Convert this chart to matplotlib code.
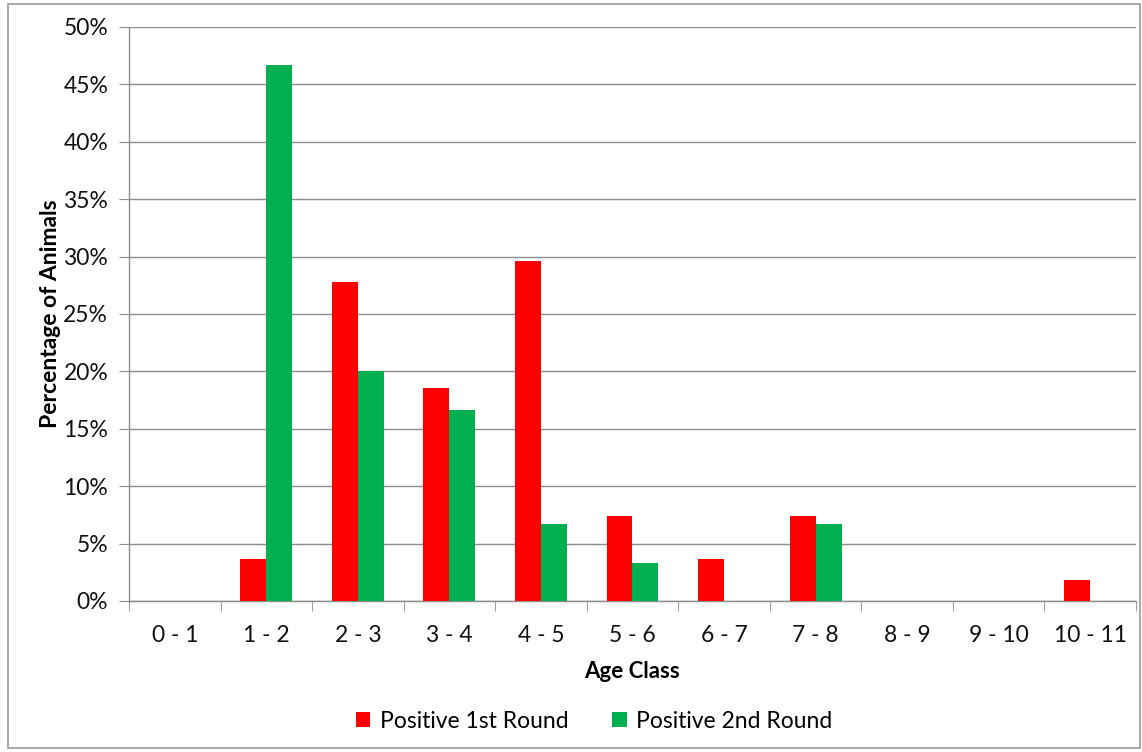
import numpy as np
import matplotlib.pyplot as plt
from matplotlib.patches import Rectangle
from matplotlib.ticker import PercentFormatter, FixedLocator

plt.rcParams['font.family'] = ['Lato', 'DejaVu Sans']

age_classes = ["0 - 1", "1 - 2", "2 - 3", "3 - 4", "4 - 5", "5 - 6",
               "6 - 7", "7 - 8", "8 - 9", "9 - 10", "10 - 11"]
first_round = [0.0, 3.70, 27.78, 18.52, 29.63, 7.41, 3.70, 7.41, 0.0, 0.0, 1.85]
second_round = [0.0, 46.67, 20.0, 16.67, 6.67, 3.33, 0.0, 6.67, 0.0, 0.0, 0.0]

red = "#ff0000"
green = "#00b050"
grid_grey = "#8c8c8c"

fig = plt.figure(figsize=(11.42, 7.52), dpi=100)
ax = fig.add_axes([0.113, 0.2008, 0.8817, 0.7633])

x = np.arange(len(age_classes))
w = 0.284
ax.bar(x - w / 2, first_round, w, color=red, label="Positive 1st Round", zorder=3)
ax.bar(x + w / 2, second_round, w, color=green, label="Positive 2nd Round", zorder=3)

ax.set_xlim(-0.5, len(age_classes) - 0.5)
ax.set_ylim(0, 50)
ax.set_yticks(np.arange(0, 51, 5))
ax.yaxis.set_major_formatter(PercentFormatter(decimals=0))
ax.set_xticks(x)
ax.set_xticklabels(age_classes)
ax.tick_params(axis='x', length=0, labelsize=16.5, pad=17, colors='#111111')
ax.tick_params(axis='y', length=7, color=grid_grey, labelsize=16.5, pad=8,
               labelcolor='#111111')
# tick marks between categories
ax.xaxis.set_minor_locator(FixedLocator(np.arange(-0.5, len(age_classes), 1)))
ax.tick_params(axis='x', which='minor', length=7, color=grid_grey)

ax.grid(axis='y', color=grid_grey, linewidth=1, zorder=0)
for side in ("top", "right"):
    ax.spines[side].set_visible(False)
for side in ("left", "bottom"):
    ax.spines[side].set_color(grid_grey)
    ax.spines[side].set_linewidth(1)

ax.set_xlabel("Age Class", fontsize=16, fontweight='bold', labelpad=11)
ax.set_ylabel("Percentage of Animals", fontsize=16.5, fontweight='bold', labelpad=2)

fig.legend(loc='center', bbox_to_anchor=(0.52, 0.041), ncol=2, frameon=False,
           fontsize=16.5, handlelength=0.65, handleheight=0.65, handletextpad=0.4,
           columnspacing=1.9)

fig.patches.append(Rectangle((8 / 1142, 4 / 752), 1132 / 1142, 744 / 752,
                             transform=fig.transFigure, fill=False,
                             edgecolor="#9a9a9a", linewidth=1.2))

fig.savefig("out.png", dpi=100)
